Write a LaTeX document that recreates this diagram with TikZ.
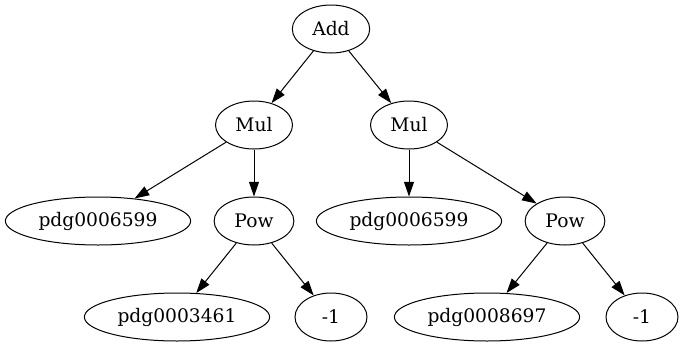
\documentclass[tikz,border=0pt]{standalone}
\usepackage{fontspec}
\setmainfont{DejaVu Serif}
\usetikzlibrary{shapes.geometric,arrows.meta}

\begin{document}
\begin{tikzpicture}[x=0.75pt, y=-0.75pt, leaf/.style={draw, ellipse, line width=0.75pt, minimum width=54pt, minimum height=36pt, inner xsep=4.5pt, inner ysep=0pt, font=\fontsize{14pt}{17pt}\selectfont}, op/.style={leaf, minimum width=57pt, inner xsep=6.5pt}, >={Triangle[length=11pt,width=7.5pt]}]
\useasboundingbox (0,0) rectangle (682,347);
\node[op] (add) at (331,29) {Add};
\node[op] (mulL) at (254,125) {Mul};
\node[op] (mulR) at (409,125) {Mul};
\node[leaf] (varA) at (98,221) {pdg0006599};
\node[op] (powL) at (254,221) {Pow};
\node[leaf] (varB) at (409,221) {pdg0006599};
\node[op] (powR) at (565,221) {Pow};
\node[leaf] (varC) at (177,317) {pdg0003461};
\node[leaf] (negL) at (331,317) {-1};
\node[leaf] (varD) at (487,317) {pdg0008697};
\node[leaf] (negR) at (642,317) {-1};
\draw[->, line width=0.75pt] (add) -- (mulL);
\draw[->, line width=0.75pt] (add) -- (mulR);
\draw[->, line width=0.75pt] (mulL) -- (varA);
\draw[->, line width=0.75pt] (mulL) -- (powL);
\draw[->, line width=0.75pt] (mulR) -- (varB);
\draw[->, line width=0.75pt] (mulR) -- (powR);
\draw[->, line width=0.75pt] (powL) -- (varC);
\draw[->, line width=0.75pt] (powL) -- (negL);
\draw[->, line width=0.75pt] (powR) -- (varD);
\draw[->, line width=0.75pt] (powR) -- (negR);
\end{tikzpicture}
\end{document}
